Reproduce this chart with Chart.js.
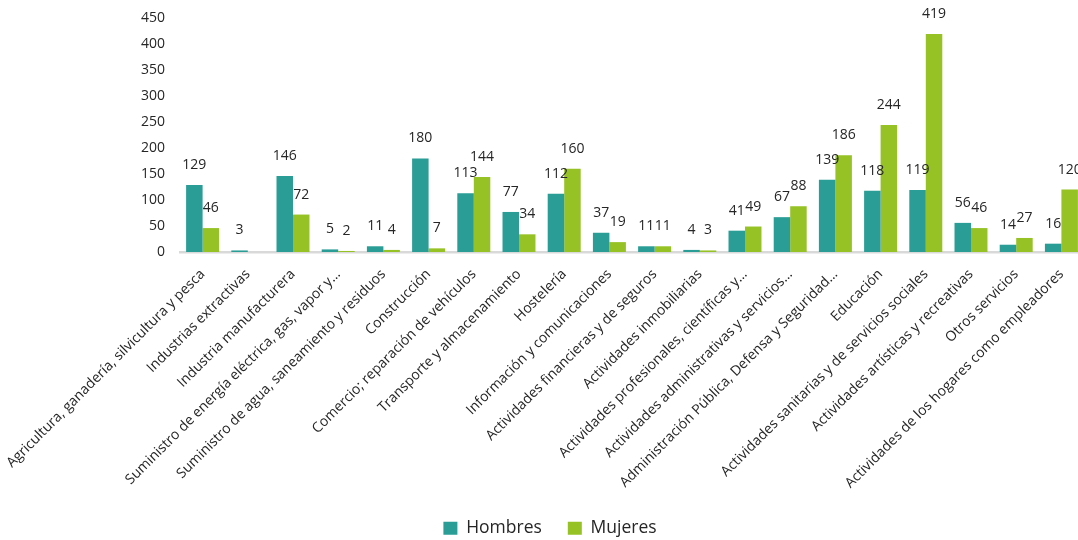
<!DOCTYPE html>
<html lang="es">
<head>
<meta charset="utf-8">
<title>Ocupados por sector y sexo</title>
<script src="https://cdn.jsdelivr.net/npm/chart.js@4/dist/chart.umd.min.js"></script>
<style>
  html, body {
    margin: 0;
    padding: 0;
    background: #ffffff;
    overflow: hidden;
  }

  #wrap {
    position: relative;
    width: 1100px;
    height: 540px;
  }
</style>
</head>
<body>
<div id="wrap">
  <canvas id="sectorChart"></canvas>
</div>

<script>
// ======================================
// Datos
// ======================================

const sectores = [
  "Agricultura, ganadería, silvicultura y pesca",
  "Industrias extractivas",
  "Industria manufacturera",
  "Suministro de energía eléctrica, gas, vapor y…",
  "Suministro de agua, saneamiento y residuos",
  "Construcción",
  "Comercio; reparación de vehículos",
  "Transporte y almacenamiento",
  "Hostelería",
  "Información y comunicaciones",
  "Actividades financieras y de seguros",
  "Actividades inmobiliarias",
  "Actividades profesionales, científicas y…",
  "Actividades administrativas y servicios…",
  "Administración Pública, Defensa y Seguridad…",
  "Educación",
  "Actividades sanitarias y de servicios sociales",
  "Actividades artísticas y recreativas",
  "Otros servicios",
  "Actividades de los hogares como empleadores"
];

const hombres = [129, 3, 146, 5, 11, 180, 113, 77, 112, 37, 11, 4, 41, 67, 139, 118, 119, 56, 14, 16];
const mujeres = [46, null, 72, 2, 4, 7, 144, 34, 160, 19, 11, 3, 49, 88, 186, 244, 419, 46, 27, 120];

const ejeY = [0, 50, 100, 150, 200, 250, 300, 350, 400, 450];


// ======================================
// Estilo
// ======================================

const colorHombres = "#2A9D96";
const colorMujeres = "#96C225";
const colorTexto = "#262626";
const fuente = "'Open Sans', 'Noto Sans', sans-serif";


// ======================================
// Etiquetas de valor encima de cada barra
// ======================================

const etiquetasValor = {
  id: "etiquetasValor",
  afterDatasetsDraw(chart) {
    const ctx = chart.ctx;

    ctx.save();
    ctx.font = "14px " + fuente;
    ctx.fillStyle = colorTexto;
    ctx.textAlign = "center";
    ctx.textBaseline = "middle";

    chart.data.datasets.forEach((dataset, i) => {
      const meta = chart.getDatasetMeta(i);

      meta.data.forEach((bar, j) => {
        const value = dataset.data[j];

        if (value === null) {
          return;
        }

        ctx.fillText(String(value), bar.x, bar.y - 20);
      });
    });

    ctx.restore();
  }
};


// ======================================
// Gráfico
// ======================================

new Chart(document.getElementById("sectorChart"), {
  type: "bar",
  data: {
    labels: sectores,
    datasets: [
      {
        label: "Hombres",
        data: hombres,
        backgroundColor: colorHombres
      },
      {
        label: "Mujeres",
        data: mujeres,
        backgroundColor: colorMujeres
      }
    ]
  },
  options: {
    responsive: true,
    maintainAspectRatio: false,
    animation: false,
    datasets: {
      bar: {
        barPercentage: 1,
        categoryPercentage: 0.73
      }
    },
    layout: {
      padding: {
        top: 0,
        right: 0,
        bottom: -7,
        left: 0
      }
    },
    plugins: {
      legend: {
        position: "bottom",
        labels: {
          boxWidth: 14,
          boxHeight: 13,
          padding: 26,
          color: colorTexto,
          font: {
            family: fuente,
            size: 17.5
          }
        }
      },
      tooltip: {
        enabled: false
      }
    },
    scales: {
      x: {
        grid: {
          display: false,
          drawTicks: false
        },
        border: {
          display: true,
          color: "#D9D9D9",
          width: 2.5
        },
        ticks: {
          autoSkip: false,
          maxRotation: 45,
          minRotation: 45,
          padding: 14,
          color: colorTexto,
          font: {
            family: fuente,
            size: 14
          }
        },
        afterFit(scale) {
          scale.height = 241.5;
          scale.paddingLeft = 180;
          scale.paddingRight = 16;
        }
      },
      y: {
        min: 0,
        max: 450,
        grid: {
          display: false,
          drawTicks: false
        },
        border: {
          display: false
        },
        afterBuildTicks(scale) {
          scale.ticks = ejeY.map((value) => ({ value: value }));
        },
        afterFit(scale) {
          scale.paddingTop = 18;
          scale.paddingBottom = 0;
        },
        ticks: {
          padding: 15,
          color: colorTexto,
          font: {
            family: fuente,
            size: 14
          }
        }
      }
    }
  },
  plugins: [etiquetasValor]
});
</script>
</body>
</html>
